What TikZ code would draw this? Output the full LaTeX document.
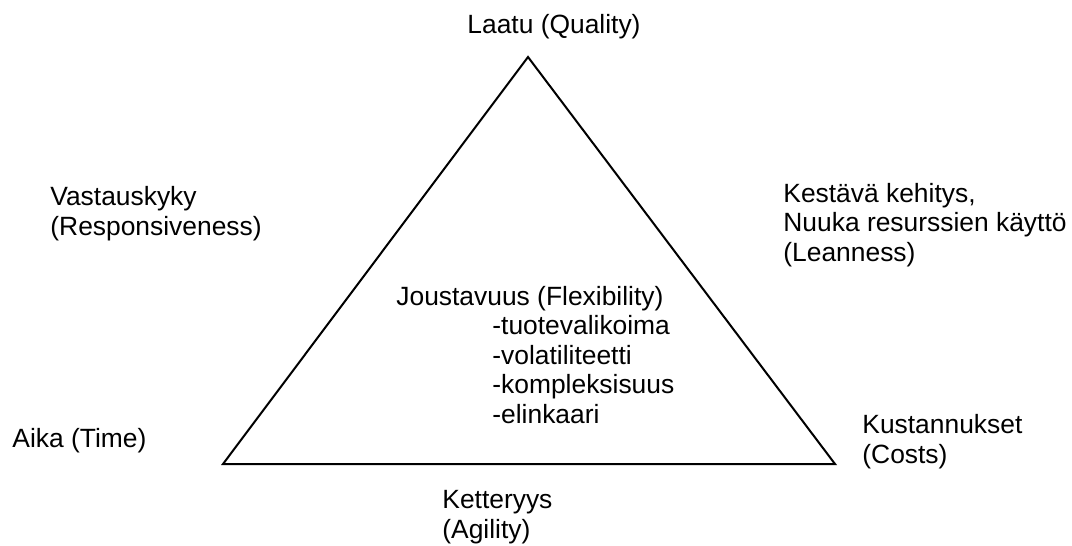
\documentclass[tikz,border=0pt]{standalone}
\usepackage{fontspec}
\setmainfont{Liberation Sans}
\begin{document}
\begin{tikzpicture}[x=0.5pt, y=-0.5pt]
    \tikzset{
        txt/.style={
            anchor=base west, align=left, inner sep=0pt,
            font=\fontsize{13.2}{14.75}\selectfont
        },
        edge/.style={
            draw=black, line width=1pt, line join=miter
        },
    }
    \useasboundingbox (0,0) rectangle (1072,546);

    % ==== Triangle ====
    \coordinate (tq) at (528,57);
    \coordinate (tt) at (223,464);
    \coordinate (tc) at (835,464);
    \draw[edge] (tq) -- (tt) -- (tc) -- cycle;

    % ==== Corner labels (base = last line) ====
    \node[txt] (quality) at (467,33) {Laatu (Quality)};
    \node[txt] (time) at (12,447) {Aika (Time)};
    \node[txt] (costs) at (862,463) {Kustannukset\\(Costs)};

    % ==== Side labels ====
    \node[txt] (resp) at (50,235) {Vastauskyky\\(Responsiveness)};
    \node[txt] (lean) at (783,261) {Kestävä kehitys,\\Nuuka resurssien käyttö\\(Leanness)};
    \node[txt] (agil) at (442,538) {Ketteryys\\(Agility)};

    % ==== Inside ====
    \node[txt] (flex) at (396,305) {Joustavuus (Flexibility)};
    \node[txt] (flexlist) at (492,423) {-tuotevalikoima\\-volatiliteetti\\-kompleksisuus\\-elinkaari};

\end{tikzpicture}
\end{document}
